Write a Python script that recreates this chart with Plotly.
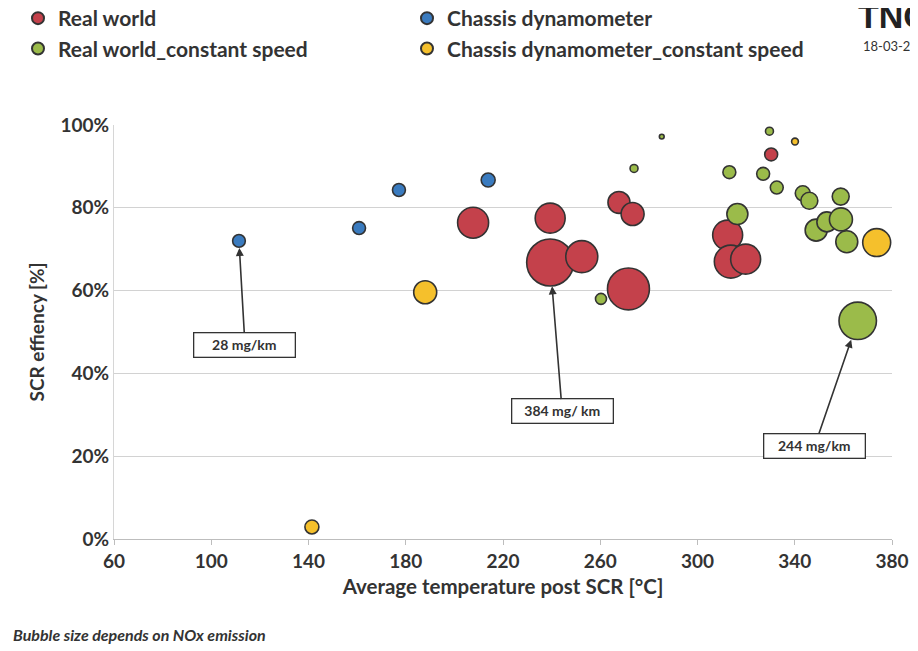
import plotly.graph_objects as go

# Real world
rw_temp = [207.7, 239.4, 239.4, 252.4, 267.7, 273.3, 271.6, 312.4, 313.7, 319.8, 330.3]
rw_eff = [76.4, 77.5, 66.8, 68.2, 81.3, 78.5, 60.4, 73.4, 67.0, 67.6, 92.9]
rw_nox = [167, 156, 384, 178, 84, 92, 306, 156, 189, 156, 29]

# Real world_constant speed
rwc_temp = [260.3, 273.9, 285.3, 329.6, 313.1, 327.0, 332.6, 343.3, 346.0, 358.9,
            316.4, 348.8, 353.2, 359.0, 361.4, 365.9]
rwc_eff = [58.0, 89.5, 97.2, 98.5, 88.6, 88.2, 84.9, 83.5, 81.7, 82.7,
           78.5, 74.6, 76.6, 77.2, 71.8, 52.7]
rwc_nox = [21, 11, 4, 11, 29, 29, 29, 39, 50, 50, 77, 84, 69, 92, 84, 244]

# Chassis dynamometer
cd_temp = [111.4, 160.8, 177.2, 213.9]
cd_eff = [72.0, 75.1, 84.3, 86.7]
cd_nox = [28, 29, 29, 34]

# Chassis dynamometer_constant speed
cdc_temp = [188.0, 141.4, 373.7, 340.1]
cdc_eff = [59.6, 2.9, 71.6, 96.0]
cdc_nox = [92, 34, 136, 8]

x_ticks = [60, 100, 140, 180, 220, 260, 300, 340, 380]
y_ticks = [0, 20, 40, 60, 80, 100]

# labelled bubbles: (temp, eff, text, tail dx, tail dy, standoff)
callouts = [
    (cd_temp[0], cd_eff[0], "28 mg/km", 6, 104, 7),
    (rw_temp[2], rw_eff[2], "384 mg/ km", 12, 149, 24),
    (rwc_temp[-1], rwc_eff[-1], "244 mg/km", -43, 125, 20),
]

W, H = 918, 651
PAGE_OFF = 8  # default body margin of the html page
ML, MR, MT, MB = 106, 34, 117, 120
SIZEREF = 0.3477
FONT = "Lato"
DARK = "#333333"


def py_to_paper(py):
    return (H - MB - (py - PAGE_OFF)) / (H - MT - MB)


def px_to_paper(px):
    return (px - PAGE_OFF - ML) / (W - ML - MR)


fig = go.Figure()


def add_series(name, xs, ys, sizes, color, legend):
    fig.add_trace(go.Scatter(
        x=xs, y=ys, mode="markers", name=name, legend=legend,
        marker=dict(size=sizes, sizemode="area", sizeref=SIZEREF, color=color,
                    opacity=1, line=dict(color=DARK, width=1.6)),
        cliponaxis=False,
    ))


add_series("Real world", rw_temp, rw_eff, rw_nox, "#C4414B", "legend")
add_series("Real world_constant speed", rwc_temp, rwc_eff, rwc_nox, "#9BBB4A", "legend")
add_series("Chassis dynamometer", cd_temp, cd_eff, cd_nox, "#3A7BBF", "legend2")
add_series("Chassis dynamometer_constant speed", cdc_temp, cdc_eff, cdc_nox, "#F5C02C", "legend2")

for cx, cy, txt, dx, dy, so in callouts:
    fig.add_annotation(
        x=cx, y=cy, text=txt, showarrow=True, ax=dx, ay=dy, standoff=so,
        arrowhead=2, arrowsize=1, arrowwidth=1.6, arrowcolor=DARK,
        bgcolor="white", bordercolor=DARK, borderwidth=1.3, borderpad=3, width=94,
        font=dict(family=FONT, size=14, color=DARK, weight="bold"),
    )

legend_font = dict(family=FONT, size=21, color=DARK, weight="bold")

fig.update_layout(
    width=W, height=H,
    margin=dict(l=ML, r=MR, t=MT, b=MB, autoexpand=False),
    paper_bgcolor="white", plot_bgcolor="white",
    legend=dict(x=px_to_paper(18), y=py_to_paper(-2),
                xanchor="left", yanchor="top",
                font=legend_font, itemsizing="constant", tracegroupgap=0,
                bgcolor="rgba(0,0,0,0)"),
    legend2=dict(x=px_to_paper(407), y=py_to_paper(-2),
                 xanchor="left", yanchor="top",
                 font=legend_font, itemsizing="constant", tracegroupgap=0,
                 bgcolor="rgba(0,0,0,0)"),
    xaxis=dict(range=[60, 380], tickvals=x_ticks, showgrid=False, automargin=False,
               showline=True, linecolor="#bdbdbd", linewidth=1,
               ticks="outside", ticklen=5, tickcolor="#bdbdbd",
               tickfont=dict(family=FONT, size=19, color=DARK, weight="bold"),
               title=dict(text="Average temperature post SCR [°C]", standoff=8,
                          font=dict(family=FONT, size=20.5, color=DARK, weight="bold")),
               zeroline=False),
    yaxis=dict(range=[0, 100], tickvals=y_ticks, automargin=False,
               ticktext=[f"{v}%" for v in y_ticks],
               showgrid=True, gridcolor="#d2d2d2", gridwidth=1,
               showline=True, linecolor="#d6d6d6", linewidth=1,
               tickfont=dict(family=FONT, size=19, color=DARK, weight="bold"),
               title=dict(text="SCR effiency [%]", standoff=10,
                          font=dict(family=FONT, size=19, color=DARK, weight="bold")),
               zeroline=False),
)

fig.add_annotation(xref="paper", yref="paper", x=px_to_paper(856), y=py_to_paper(16),
                   xanchor="left", yanchor="middle", showarrow=False, text="TNO",
                   font=dict(family="Liberation Sans", size=34, color="#222222", weight="bold"))
fig.add_annotation(xref="paper", yref="paper", x=px_to_paper(861), y=py_to_paper(46),
                   xanchor="left", yanchor="middle", showarrow=False, text="18-03-2016",
                   font=dict(family=FONT, size=13, color=DARK))
fig.add_annotation(xref="paper", yref="paper", x=px_to_paper(268), y=py_to_paper(634),
                   xanchor="right", yanchor="middle", showarrow=False,
                   text="Bubble size depends on NOx emission",
                   font=dict(family=FONT, size=16, color=DARK, weight="bold", style="italic"))

fig.write_html("out.html")
